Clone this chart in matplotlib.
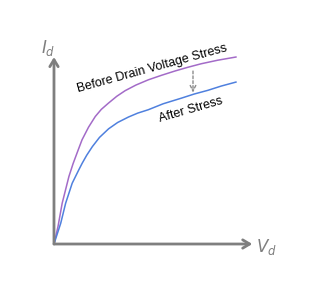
import matplotlib
matplotlib.use('Agg')
import matplotlib.pyplot as plt

# Vd / Id in arbitrary units (0..10)
vd_before = [0, 0.22, 0.45, 0.82, 1.05, 1.33, 1.54, 1.9, 2.27, 2.6, 3.0, 3.45, 3.91, 4.5, 5.18, 5.9, 6.64, 7.35, 8.09, 9.0, 10]
id_before = [0, 0.93, 2.18, 3.61, 4.3, 5.03, 5.57, 6.25, 6.82, 7.2, 7.54, 7.9, 8.2, 8.5, 8.78, 9.02, 9.25, 9.45, 9.64, 9.83, 10.0]
vd_after = [0, 0.37, 0.64, 1.0, 1.36, 1.55, 1.8, 2.11, 2.5, 3.0, 3.5, 4.09, 4.6, 5.18, 6.0, 7.0, 7.7, 8.46, 9.2, 10]
id_after = [0, 1.11, 2.18, 3.25, 3.96, 4.32, 4.75, 5.21, 5.7, 6.16, 6.5, 6.79, 7.0, 7.18, 7.5, 7.8, 8.02, 8.22, 8.45, 8.66]

label_before = 'Before Drain Voltage Stress'
label_after = 'After Stress'

plt.rcParams['font.family'] = ['Liberation Sans', 'DejaVu Sans']

fig = plt.figure(figsize=(3.18, 2.89), dpi=100)
ax = fig.add_axes([0, 0, 1, 1])
ax.set_xlim(-2.967, 14.51)
ax.set_ylim(-2.406, 13.05)
ax.axis('off')

grey = '#7f7f7f'
# axes with open arrow heads
ax.annotate('', xy=(0, 10.0), xytext=(0, 0),
            arrowprops=dict(arrowstyle='->,head_length=0.5,head_width=0.3', color=grey, lw=2, shrinkA=0, shrinkB=0))
ax.annotate('', xy=(10.9, 0), xytext=(0, 0),
            arrowprops=dict(arrowstyle='->,head_length=0.5,head_width=0.3', color=grey, lw=2, shrinkA=0, shrinkB=0))

ax.plot(vd_before, id_before, color='#a36bc8', lw=1.1)
ax.plot(vd_after, id_after, color='#4f80de', lw=1.1)

# dashed arrow between the curves
ax.annotate('', xy=(7.64, 8.1), xytext=(7.64, 9.25),
            arrowprops=dict(arrowstyle='->', color='#8c8c8c', lw=1, linestyle=(0, (2, 1.5)), shrinkA=0, shrinkB=0))

ax.text(1.34, 8.1, label_before, rotation=15.4, rotation_mode='anchor',
        ha='left', va='baseline', fontsize=9, color='black')
ax.text(5.82, 6.54, label_after, rotation=16.2, rotation_mode='anchor',
        ha='left', va='baseline', fontsize=9, color='black')

ax.text(-0.3, 10.5, '$I_d$', color=grey, fontsize=12, ha='center', va='center')
ax.text(11.7, -0.15, '$V_d$', color=grey, fontsize=12, ha='center', va='center')

fig.savefig('out.png', dpi=100)
